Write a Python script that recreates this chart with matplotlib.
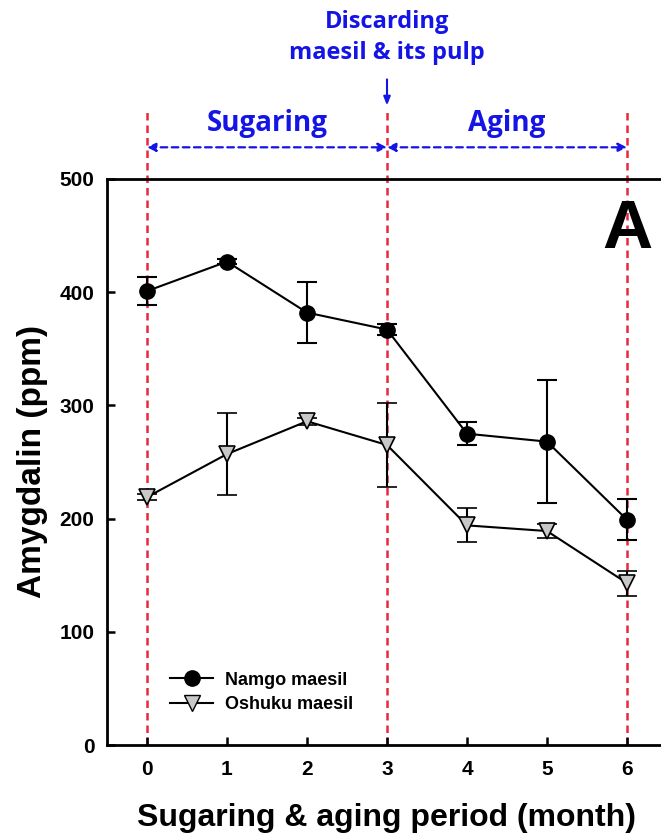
import matplotlib
matplotlib.use("Agg")
import matplotlib.pyplot as plt
from matplotlib.lines import Line2D

months = [0, 1, 2, 3, 4, 5, 6]
namgo_mean = [401, 427, 382, 367, 275, 268, 199]
namgo_err = [12, 2, 27, 5, 10, 54, 18]
oshuku_mean = [219, 257, 286, 265, 194, 189, 143]
oshuku_err = [3, 36, 3, 37, 15, 6, 11]
yticks = [0, 100, 200, 300, 400, 500]
phase_labels = ["Sugaring", "Aging"]
boundaries = [0, 3, 6]

W, H = 661, 838
fig = plt.figure(figsize=(W / 100, H / 100), dpi=100)
ax = fig.add_axes([107 / W, 93 / H, 560 / W, 566 / H])
ax.set_xlim(-0.5, 6.5)
ax.set_ylim(0, 500)

font = "Liberation Sans"
blue = "#1414e6"
red = "#e8283c"

for b in boundaries:
    ax.plot([b, b], [0, 560], color=red, lw=1.8, ls=(0, (3, 2)), clip_on=False, zorder=1)

ax.errorbar(months, namgo_mean, yerr=namgo_err, color="black", lw=1.5, marker="o",
            ms=11, mfc="black", mec="black", ecolor="black", elinewidth=1.5,
            capsize=7, capthick=1.5, zorder=3)
ax.errorbar(months, oshuku_mean, yerr=oshuku_err, color="black", lw=1.5, marker="v",
            ms=11, mfc="#c8c8c8", mec="black", mew=1.2, ecolor="black", elinewidth=1.5,
            capsize=7, capthick=1.5, zorder=3)

ax.set_xticks(months)
ax.set_yticks(yticks)
ax.tick_params(direction="in", length=6, width=1.8, labelsize=15)
ax.tick_params(axis="x", pad=11)
ax.tick_params(axis="y", pad=9)
for lab in ax.get_xticklabels() + ax.get_yticklabels():
    lab.set_fontfamily(font)
    lab.set_fontweight("bold")
for s in ax.spines.values():
    s.set_linewidth(2.0)

ax.set_xlabel("Sugaring & aging period (month)", fontsize=23, fontweight="bold",
              fontfamily=font, labelpad=17)
ax.set_ylabel("Amygdalin (ppm)", fontsize=24, fontweight="bold",
              fontfamily=font, labelpad=8)

# phase arrows
for i, lab in enumerate(phase_labels):
    x0, x1 = boundaries[i], boundaries[i + 1]
    ax.annotate("", xy=(x1, 528), xytext=(x0, 528), annotation_clip=False,
                arrowprops=dict(arrowstyle="<|-|>,head_length=0.5,head_width=0.25",
                                color=blue, lw=1.6, ls=(0, (3, 2)),
                                shrinkA=0, shrinkB=0))
    ax.text((x0 + x1) / 2, 549, lab, ha="center", va="center", color=blue,
            fontsize=20, fontweight="bold", fontfamily="Open Sans", clip_on=False)

ax.annotate("", xy=(3, 565), xytext=(3, 588), annotation_clip=False,
            arrowprops=dict(arrowstyle="-|>,head_length=0.5,head_width=0.2",
                            color=blue, lw=1.5, shrinkA=0, shrinkB=0))
ax.text(3, 639, "Discarding", ha="center", va="center", color=blue,
        fontsize=17, fontweight="bold", fontfamily="Open Sans", clip_on=False)
ax.text(3, 611, "maesil & its pulp", ha="center", va="center", color=blue,
        fontsize=17, fontweight="bold", fontfamily="Open Sans", clip_on=False)

ax.text(6, 455, "A", ha="center", va="center", fontsize=50, fontweight="bold",
        fontfamily=font, zorder=4)

handles = [
    Line2D([], [], color="black", lw=1.5, marker="o", ms=11, mfc="black", mec="black"),
    Line2D([], [], color="black", lw=1.5, marker="v", ms=11, mfc="#c8c8c8", mec="black"),
]
leg = ax.legend(handles, ["Namgo maesil", "Oshuku maesil"], loc="center left",
                bbox_to_anchor=((170 - 107) / 560, (745 - 692.5) / 566), frameon=False,
                borderaxespad=0, borderpad=0,
                handlelength=2.4, handletextpad=0.65, labelspacing=0.42,
                prop=dict(family=font, weight="bold", size=13))

fig.savefig("out.png", dpi=100)
